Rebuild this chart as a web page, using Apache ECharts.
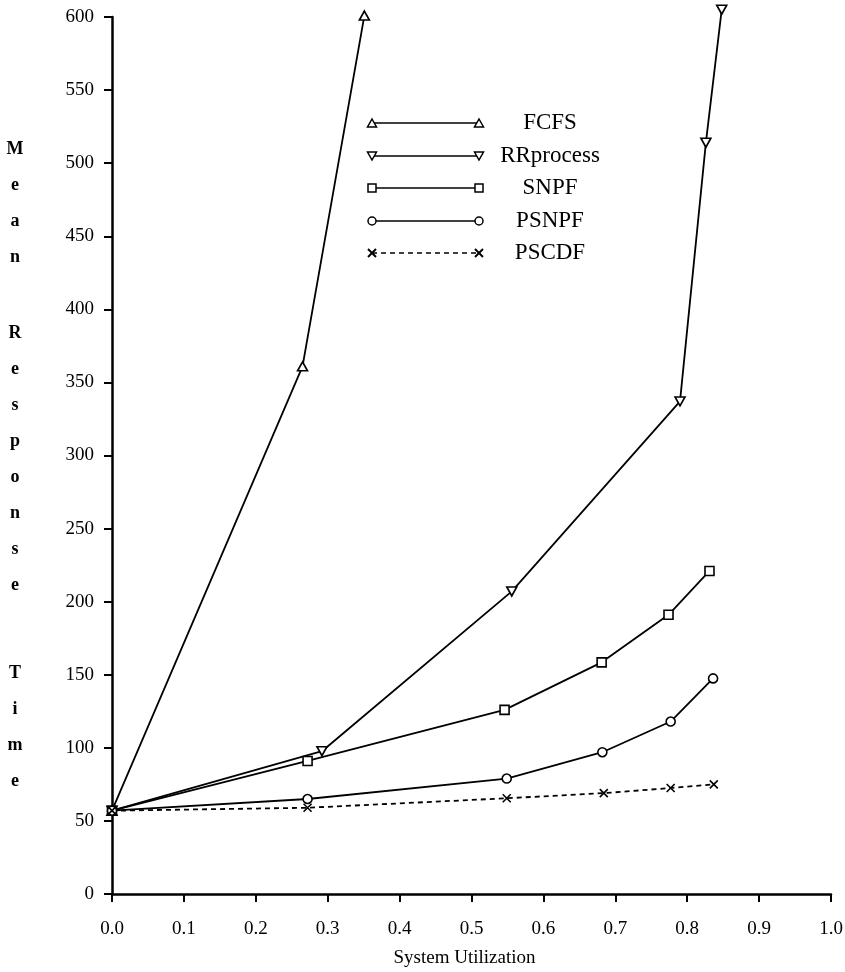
<!DOCTYPE html>
<html><head><meta charset="utf-8">
<script src="https://cdn.jsdelivr.net/npm/echarts@6/dist/echarts.min.js"></script>
<style>html,body{margin:0;padding:0;background:#fff}#c{width:845px;height:972px}</style>
</head><body><div id="c"></div>
<script>
const seriesNames = ['FCFS','RRprocess','SNPF','PSNPF','PSCDF'];
const fcfsX = [0, 0.265, 0.351];
const fcfsY = [57, 361, 601];
const rrX = [0, 0.292, 0.556, 0.790, 0.826, 0.848];
const rrY = [57, 97.7, 207, 337, 514, 605];
const snpfX = [0, 0.272, 0.546, 0.681, 0.774, 0.831];
const snpfY = [57, 91, 126, 158.5, 191, 221];
const psnpfX = [0, 0.272, 0.549, 0.682, 0.777, 0.836];
const psnpfY = [57, 65, 79, 97, 118, 147.5];
const pscdfX = [0, 0.272, 0.549, 0.684, 0.777, 0.837];
const pscdfY = [57, 59, 65.5, 69, 72.5, 75];
const xTicks = [0,0.1,0.2,0.3,0.4,0.5,0.6,0.7,0.8,0.9,1.0];
const yTicks = [0,50,100,150,200,250,300,350,400,450,500,550,600];

const FONT = '"Liberation Serif", "DejaVu Serif", serif';
const pair = (xs, ys) => xs.map((x, i) => [x, ys[i]]);
const triDown = 'path://M0,0 L10,0 L5,9 Z';
const triUp = 'path://M5,0 L10,9 L0,9 Z';
const cross = 'path://M0,0 L10,10 M10,0 L0,10';

const symbols = [triUp, triDown, 'rect', 'circle', cross];
const sizes = [[10,9],[10,9],9,9,8];
const data = [pair(fcfsX,fcfsY), pair(rrX,rrY), pair(snpfX,snpfY), pair(psnpfX,psnpfY), pair(pscdfX,pscdfY)];

const series = seriesNames.map((n, i) => ({
  name: n, type: 'line', data: data[i],
  symbol: symbols[i], symbolSize: sizes[i], showSymbol: true,
  clip: false,
  lineStyle: {color: '#000', width: 1.8, type: i === 4 ? [5,4] : 'solid'},
  itemStyle: {color: '#fff', borderColor: '#000', borderWidth: 1.6},
  z: 3
}));

// legend drawn with graphic elements
const legY = [123, 156, 188, 221, 253];
const lx1 = 372, lx2 = 479;
const graphics = [];
function sym(i, cx, cy) {
  const st = {fill: '#fff', stroke: '#000', lineWidth: 1.5};
  if (i === 0) return {type:'polygon', shape:{points:[[cx,cy-4],[cx+4.5,cy+4],[cx-4.5,cy+4]]}, style: st, z: 10};
  if (i === 1) return {type:'polygon', shape:{points:[[cx-4.5,cy-4],[cx+4.5,cy-4],[cx,cy+4]]}, style: st, z: 10};
  if (i === 2) return {type:'rect', shape:{x:cx-4,y:cy-4,width:8,height:8}, style: st, z: 10};
  if (i === 3) return {type:'circle', shape:{cx:cx,cy:cy,r:4}, style: st, z: 10};
  return {type:'group', z: 10, children:[
    {type:'line', shape:{x1:cx-4,y1:cy-4,x2:cx+4,y2:cy+4}, style:{stroke:'#000', lineWidth:2}},
    {type:'line', shape:{x1:cx+4,y1:cy-4,x2:cx-4,y2:cy+4}, style:{stroke:'#000', lineWidth:2}}
  ]};
}
seriesNames.forEach((n, i) => {
  graphics.push({type:'line', shape:{x1:lx1,y1:legY[i],x2:lx2,y2:legY[i]},
    style:{stroke:'#000', lineWidth:1.6, lineDash: i === 4 ? [5,4] : null}, z: 9});
  graphics.push(sym(i, lx1, legY[i]));
  graphics.push(sym(i, lx2, legY[i]));
  graphics.push({type:'text', x: 550, y: legY[i],
    style:{text: n, font: '23px ' + FONT, fill:'#000', align:'center', verticalAlign:'middle'}});
});
// vertical y axis title
const yTitleParts = [['M','e','a','n'], ['R','e','s','p','o','n','s','e'], ['T','i','m','e']];
const yTitleTops = [131, 315, 655];
yTitleParts.forEach((p, k) => {
  graphics.push({type:'text', x: 15, y: yTitleTops[k],
    style:{text: p.join('\n'), font: 'bold 18px ' + FONT, lineHeight: 36, align:'center', verticalAlign:'top', fill:'#000'}});
});

const chart = echarts.init(document.getElementById('c'), null, {renderer:'canvas'});
chart.setOption({
  backgroundColor: '#fff',
  animation: false,
  grid: {left: 112, right: 14, top: 17, bottom: 78, containLabel: false, outerBoundsMode: 'none'},
  xAxis: {
    type: 'value', min: 0, max: 1, interval: 0.1,
    name: 'System Utilization', nameLocation: 'middle', nameGap: 55,
    nameTextStyle: {fontFamily: FONT, fontSize: 19, color: '#000', padding:[0,0,0,-14]},
    axisLine: {lineStyle: {color: '#000', width: 2.5}},
    axisTick: {show: true, length: 8, inside: false, lineStyle: {color:'#000', width: 2}},
    axisLabel: {fontFamily: FONT, fontSize: 19, color: '#000', margin: 26,
      formatter: v => v.toFixed(1)},
    splitLine: {show: false}
  },
  yAxis: {
    type: 'value', min: 0, max: 600, interval: 50,
    axisLine: {show: true, lineStyle: {color: '#000', width: 2.5}},
    axisTick: {show: true, length: 8, inside: false, lineStyle: {color:'#000', width: 2}},
    axisLabel: {fontFamily: FONT, fontSize: 19, color: '#000', margin: 18},
    splitLine: {show: false}
  },
  graphic: graphics,
  series: series
});
</script></body></html>
